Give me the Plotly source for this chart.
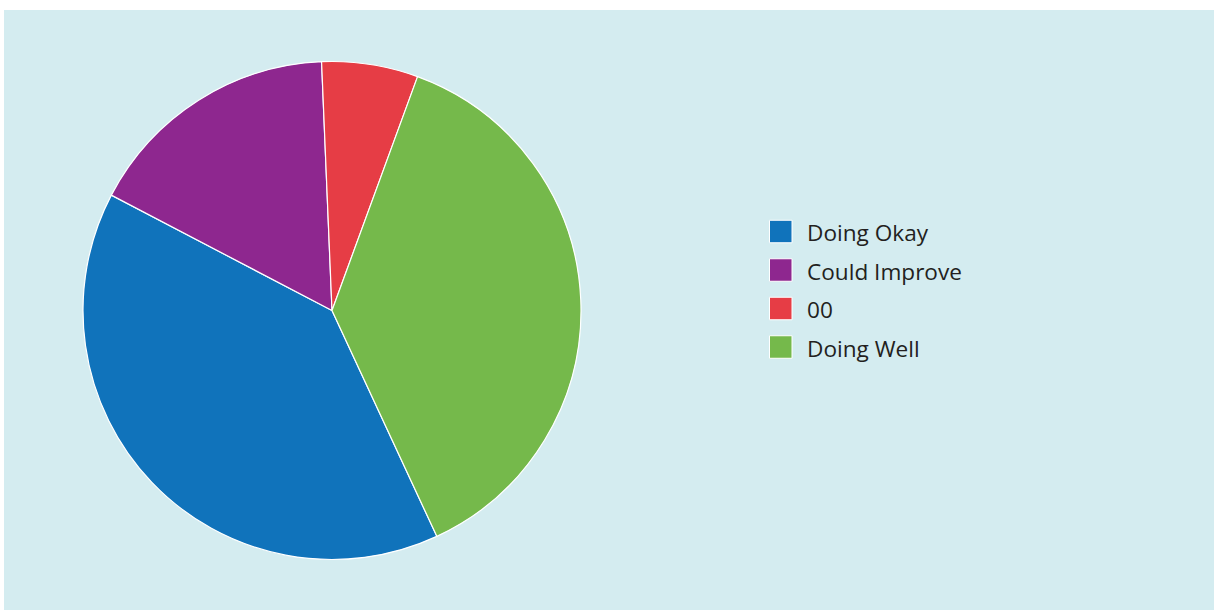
import plotly.graph_objects as go

categories = ["Doing Okay", "Could Improve", "00", "Doing Well"]
values = [19, 8, 3, 18]
colors = ["#1073bb", "#8e278f", "#e63d45", "#75b94b"]

W, H = 1214, 610
BG = "#d4ecf0"

def px(x):
    return x / W

def py(y):
    return 1 - y / H

fig = go.Figure()
fig.add_trace(go.Pie(
    labels=categories,
    values=values,
    marker=dict(colors=colors, line=dict(color="white", width=1.2)),
    sort=False,
    direction="clockwise",
    rotation=155.1,
    textinfo="none",
    showlegend=False,
    domain=dict(x=[px(83), px(581)], y=[py(559.5), py(61.5)]),
))

shapes = [dict(type="rect", xref="paper", yref="paper", layer="below",
               x0=px(4), x1=px(W), y0=py(H), y1=py(10),
               fillcolor=BG, line=dict(width=0))]
annotations = []
y0, gap, sw = 231.5, 38.5, 22.5
for i, (cat, col) in enumerate(zip(categories, colors)):
    cy = y0 + i * gap
    shapes.append(dict(type="rect", xref="paper", yref="paper",
                       x0=px(769.5), x1=px(769.5 + sw),
                       y0=py(cy + sw / 2), y1=py(cy - sw / 2),
                       fillcolor=col, line=dict(color="white", width=1)))
    annotations.append(dict(xref="paper", yref="paper", x=px(804.5), y=py(cy + 1),
                            text=cat, showarrow=False, xanchor="left", yanchor="middle",
                            font=dict(family="Open Sans", size=22.6, color="#231f20")))

fig.update_layout(
    width=W, height=H,
    margin=dict(l=0, r=0, t=0, b=0),
    paper_bgcolor="white",
    plot_bgcolor="white",
    shapes=shapes,
    annotations=annotations,
    showlegend=False,
)

fig.write_html("out.html")
